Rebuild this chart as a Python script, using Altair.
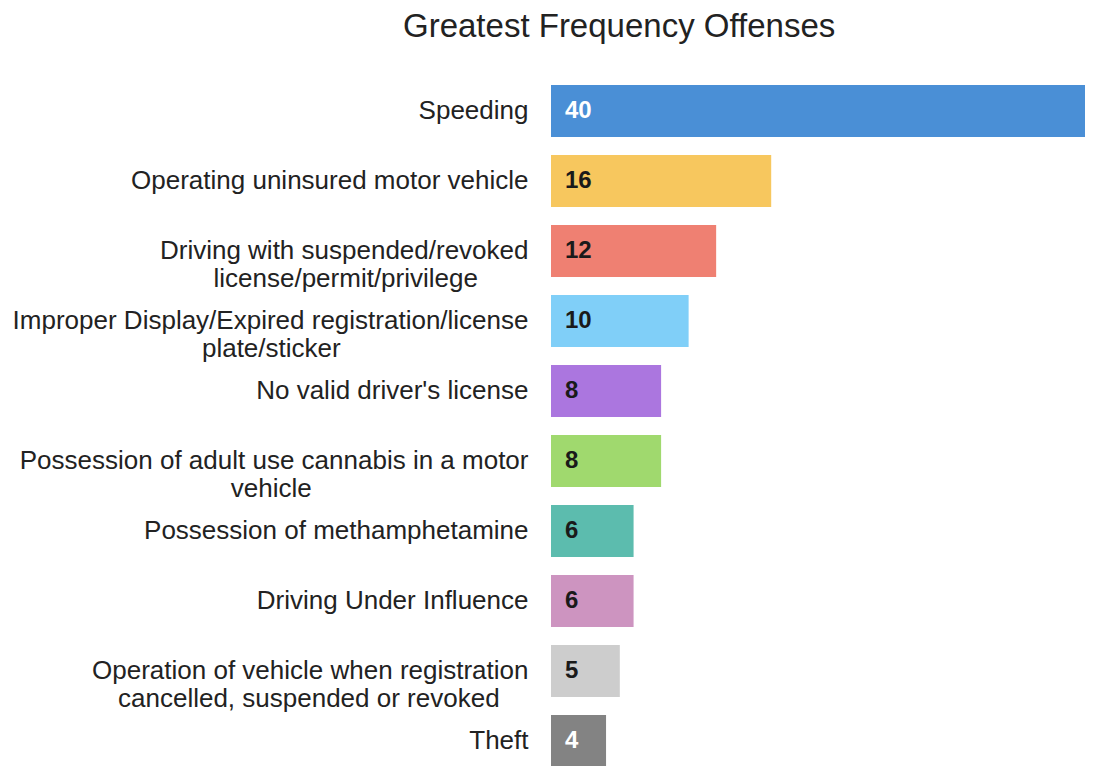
import altair as alt
import pandas as pd

# ---- data ----
offenses = [
    "Speeding",
    "Operating uninsured motor vehicle",
    "Driving with suspended/revoked|license/permit/privilege",
    "Improper Display/Expired registration/license|plate/sticker",
    "No valid driver's license",
    "Possession of adult use cannabis in a motor|vehicle",
    "Possession of methamphetamine",
    "Driving Under Influence",
    "Operation of vehicle when registration|cancelled, suspended or revoked",
    "Theft",
]
counts = [40, 16, 12, 10, 8, 8, 6, 6, 5, 4]

# ---- styles ----
bar_colors = ["#4a8fd6", "#f7c75e", "#ef8072", "#80cff8", "#ab76df",
              "#a0d96e", "#5cbcae", "#cd94c0", "#cdcdcd", "#838383"]
value_colors = ["#ffffff", "#1a1a1a", "#1a1a1a", "#1a1a1a", "#1a1a1a",
                "#1a1a1a", "#1a1a1a", "#1a1a1a", "#1a1a1a", "#ffffff"]

# Arial-metric advance widths (1/1000 em) used to centre the lines of a
# two-line label inside its right-aligned block (padding with NBSP).
W = {" ": 278, "/": 278, ",": 278, "'": 191, "a": 556, "b": 556, "c": 500,
     "d": 556, "e": 556, "f": 278, "g": 556, "h": 556, "i": 222, "j": 222,
     "k": 500, "l": 222, "m": 833, "n": 556, "o": 556, "p": 556, "q": 556,
     "r": 333, "s": 500, "t": 278, "u": 556, "v": 500, "w": 722, "x": 500,
     "y": 500, "z": 500, "D": 722, "I": 278, "E": 667, "N": 722, "P": 667,
     "O": 778, "S": 667, "T": 611, "U": 722, "G": 778, "F": 611}


def width(s):
    return sum(W.get(ch, 556) for ch in s)


def centre_lines(label):
    parts = label.split("|")
    if len(parts) == 1:
        return label
    wmax = max(width(p) for p in parts)
    out = []
    for p in parts:
        n = int(round((wmax - width(p)) / 2 / 278))
        out.append(p + "\u00a0" * n + ("\u200b" if n else ""))
    return "|".join(out)


display = [centre_lines(o) for o in offenses]

df = pd.DataFrame({
    "offense": display,
    "count": counts,
    "color": bar_colors,
    "tcolor": value_colors,
})

FONT = "Liberation Sans"

y_enc = alt.Y(
    "offense:N",
    sort=display,
    title=None,
    scale=alt.Scale(paddingInner=0.257, paddingOuter=0.129),
    axis=alt.Axis(
        labelExpr="split(datum.label, '|')",
        labelFont=FONT,
        labelFontSize=26,
        labelLineHeight=28,
        labelColor="#222222",
        labelPadding=23,
        labelLimit=600,
        minExtent=543,
        maxExtent=543,
        domain=False,
        ticks=False,
        grid=False,
    ),
)

x_enc = alt.X("count:Q", axis=None, scale=alt.Scale(domain=[0, 38.8], nice=False))

bars = alt.Chart(df).mark_bar(clip=True).encode(
    y=y_enc,
    x=x_enc,
    color=alt.Color("color:N", scale=None),
)

labels = alt.Chart(df).mark_text(
    align="left", baseline="middle", dx=14, font=FONT, fontSize=24, fontWeight="bold"
).encode(
    y=alt.Y("offense:N", sort=display),
    x=alt.datum(0),
    text="count:Q",
    color=alt.Color("tcolor:N", scale=None),
)

chart = (
    alt.layer(bars, labels)
    .properties(
        width=534,
        height=700,
        padding={"left": 0, "top": 3, "right": 0, "bottom": 0},
        title=alt.TitleParams(
            "Greatest Frequency Offenses",
            font=FONT,
            fontSize=33,
            fontWeight="normal",
            color="#222222",
            anchor="start",
            frame="bounds",
            dx=395,
            offset=32,
        ),
    )
    .configure_view(stroke=None)
)

chart.save("out.html", embed_options={"renderer": "svg", "actions": False})
